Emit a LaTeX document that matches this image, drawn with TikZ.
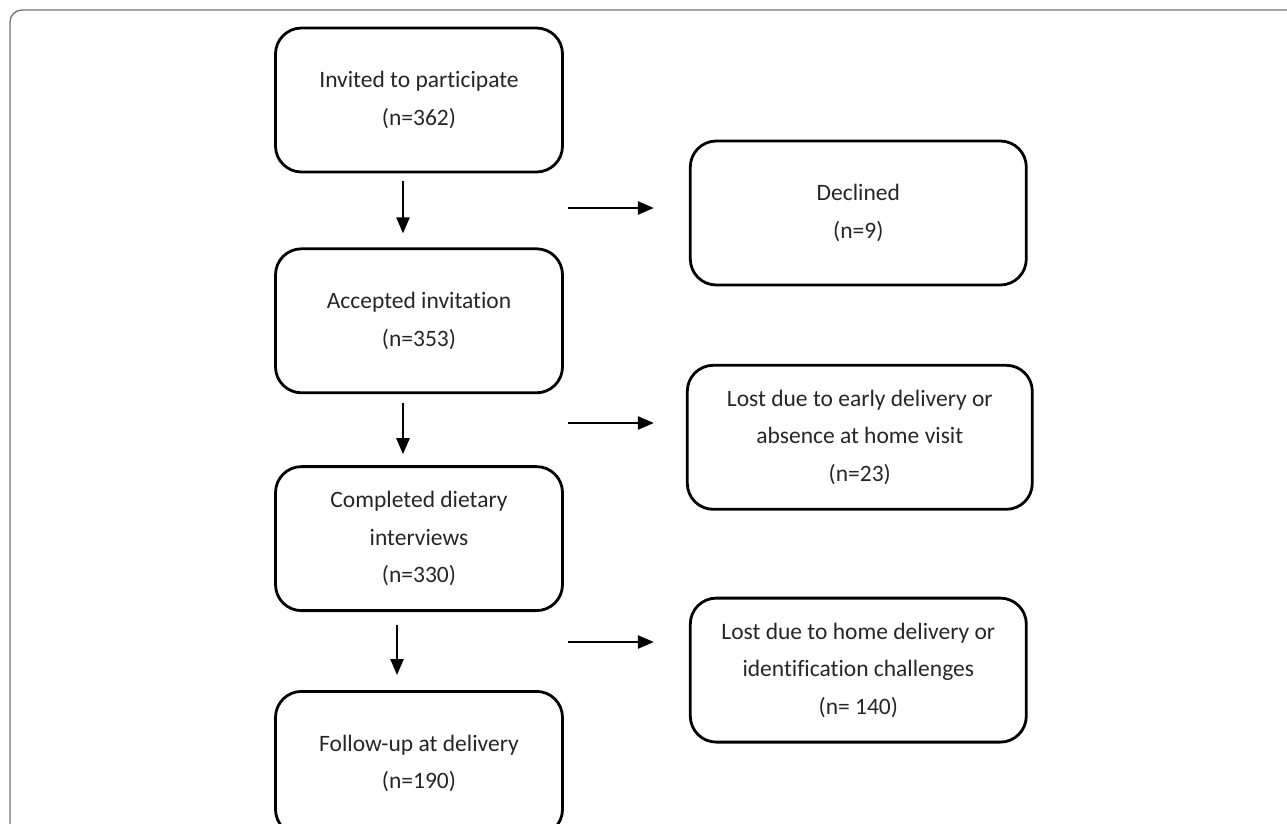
\documentclass[tikz,border=0pt]{standalone}
\usepackage{fontspec}
\setmainfont{Carlito}[Ligatures=NoCommon]
\usetikzlibrary{positioning, arrows.meta, calc}
\tikzset{
  flow/.style={
	x=1pt, y=-1pt, % one unit per pixel, y going down
	>={Triangle[length=16pt,width=13pt]}, % filled heads
	every node/.style={font=\fontsize{23.5}{37.5}\selectfont, text=black!85},
  },
  stage/.style={draw=black, line width=2.8pt, rounded corners=26pt, minimum width=287pt, minimum height=144pt, align=center, inner sep=0pt}, % main column
  loss/.style={stage, minimum width=336pt}, % side boxes
  flowarrow/.style={->, draw=black, line width=2.4pt},
}
\begin{document}
\begin{tikzpicture}[flow]
\useasboundingbox (0,0) rectangle (1287,823);
\clip (0,0) rectangle (1287,823);
\draw[black!55, line width=1.3pt, rounded corners=12pt] (10,10) rectangle (1320,860);

\node[stage] at (419,100) (inv) {Invited to participate\\(n=362)};
\node[stage, below=74pt of inv] (acc) {Accepted invitation\\(n=353)};
\node[stage, below=71pt of acc] (comp) {Completed dietary\\interviews\\(n=330)};
\node[stage, below=78pt of comp] (fol) {Follow-up at delivery\\(n=190)};

\node[loss, right=125pt of inv, yshift=-113pt] (dec) {Declined\\(n=9)};
\node[loss, right=122pt of acc, yshift=-116.5pt, minimum width=345pt] (early) {Lost due to early delivery or\\absence at home visit\\(n=23)};
\node[loss, right=125pt of comp, yshift=-131.5pt] (home) {Lost due to home delivery or\\identification challenges\\(n= 140)};

\coordinate (d1) at (568,208);
\coordinate (d2) at (568,423);
\coordinate (d3) at (568,642);

\draw   ([xshift=-16pt]inv.south) edge[flowarrow, shorten <=8pt, shorten >=14pt] ([xshift=-16pt]acc.north)
	([xshift=-16pt]acc.south) edge[flowarrow, shorten <=9pt, shorten >=11pt] ([xshift=-16pt]comp.north)
	([xshift=-22pt]comp.south) edge[flowarrow, shorten <=13pt, shorten >=15pt] ([xshift=-22pt]fol.north)
	(d1) edge[flowarrow, shorten >=35pt] (d1 -| dec.west)
	(d2) edge[flowarrow, shorten >=32pt] (d2 -| early.west)
	(d3) edge[flowarrow, shorten >=35pt] (d3 -| home.west)
;
\end{tikzpicture}
\end{document}
